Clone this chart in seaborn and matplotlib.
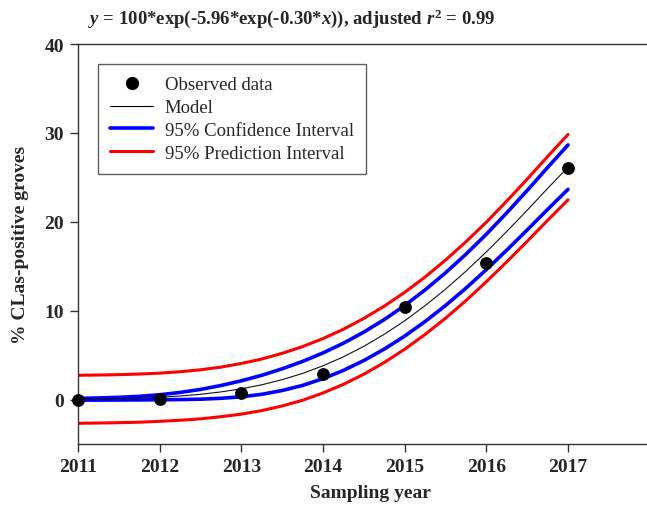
import numpy as np
import pandas as pd
import matplotlib
matplotlib.use("Agg")
import matplotlib.pyplot as plt
from matplotlib.lines import Line2D
import seaborn as sns

# Observed survey data
obs_years = [2011, 2012, 2013, 2014, 2015, 2016, 2017]
obs_pct = [0.0, 0.1, 0.7, 2.9, 10.4, 15.4, 26.1]

# Fitted Gompertz curve and bands, tabulated every quarter year
grid_years = [2011.00, 2011.25, 2011.50, 2011.75, 2012.00, 2012.25, 2012.50, 2012.75,
              2013.00, 2013.25, 2013.50, 2013.75, 2014.00, 2014.25, 2014.50, 2014.75,
              2015.00, 2015.25, 2015.50, 2015.75, 2016.00, 2016.25, 2016.50, 2016.75,
              2017.00]
model_pct = [0.03, 0.06, 0.10, 0.16, 0.26, 0.40, 0.59, 0.86, 1.21, 1.66, 2.24, 2.94,
             3.80, 4.81, 5.99, 7.34, 8.86, 10.56, 12.42, 14.44, 16.61, 18.91, 21.30,
             23.75, 26.15]
ci_low = [-0.07, -0.06, -0.05, -0.04, -0.02, 0.00, 0.04, 0.14, 0.31, 0.59, 1.02, 1.59,
          2.35, 3.28, 4.39, 5.68, 7.14, 8.78, 10.58, 12.53, 14.62, 16.81, 19.08, 21.39,
          23.65]
ci_high = [0.13, 0.18, 0.25, 0.36, 0.54, 0.80, 1.14, 1.58, 2.11, 2.73, 3.46, 4.29, 5.25,
           6.34, 7.59, 9.00, 10.58, 12.34, 14.26, 16.35, 18.60, 21.01, 23.52, 26.11, 28.65]
pi_low = [-2.67, -2.64, -2.60, -2.55, -2.45, -2.33, -2.17, -1.93, -1.64, -1.24, -0.72,
          -0.08, 0.74, 1.71, 2.85, 4.17, 5.66, 7.33, 9.15, 11.13, 13.26, 15.49, 17.80,
          20.16, 22.47]
pi_high = [2.73, 2.76, 2.80, 2.87, 2.97, 3.13, 3.35, 3.65, 4.06, 4.56, 5.20, 5.96, 6.86,
           7.91, 9.13, 10.51, 12.06, 13.79, 15.69, 17.75, 19.96, 22.33, 24.80, 27.34, 29.83]

x_ticks = [2011, 2012, 2013, 2014, 2015, 2016, 2017]
y_ticks = [0, 10, 20, 30, 40]

sns.set_style("white")
plt.rcParams["font.family"] = ["Liberation Serif", "DejaVu Serif"]
plt.rcParams["mathtext.fontset"] = "custom"
plt.rcParams["mathtext.rm"] = "Liberation Serif:bold"
plt.rcParams["mathtext.it"] = "Liberation Serif:bold:italic"
plt.rcParams["mathtext.bf"] = "Liberation Serif:bold"

fig = plt.figure(figsize=(6.47, 5.06), dpi=100)
ax = fig.add_axes([78 / 647, 61 / 506, 569 / 647, 400 / 506])

curves = pd.DataFrame({"year": grid_years, "model": model_pct,
                       "ci_low": ci_low, "ci_high": ci_high,
                       "pi_low": pi_low, "pi_high": pi_high})

red = "#ff0000"
blue = "#0000ff"
for col in ["pi_low", "pi_high"]:
    sns.lineplot(data=curves, x="year", y=col, ax=ax, color=red, lw=2.2, zorder=2)
for col in ["ci_low", "ci_high"]:
    sns.lineplot(data=curves, x="year", y=col, ax=ax, color=blue, lw=2.6, zorder=3)
sns.lineplot(data=curves, x="year", y="model", ax=ax, color="#111111", lw=0.8, zorder=4)

obs = pd.DataFrame({"year": obs_years, "pct": obs_pct})
sns.scatterplot(data=obs, x="year", y="pct", ax=ax, color="black", s=85,
                edgecolor="black", linewidth=0, zorder=5, clip_on=False)

ax.set_xlim(2011, 2011 + 569 / 81.67)
ax.set_ylim(-5, 40)
ax.set_xticks(x_ticks)
ax.set_yticks(y_ticks)
ax.set_xticklabels([str(v) for v in x_ticks], fontsize=14, fontweight="bold")
ax.set_yticklabels([str(v) for v in y_ticks], fontsize=14, fontweight="bold")
ax.tick_params(axis="both", direction="out", length=6, width=1, color="#333333",
               pad=4, left=True, bottom=True)

for side in ["left", "bottom", "top"]:
    ax.spines[side].set_color("#333333")
    ax.spines[side].set_linewidth(1.0)
ax.spines["right"].set_visible(False)

ax.set_xlabel("Sampling year", fontsize=14, fontweight="bold")
ax.xaxis.label.set_va("center")
ax.xaxis.set_label_coords((370 - 78) / 569, (445 - 494) / 400)
ax.set_ylabel("% CLas-positive groves", fontsize=14, fontweight="bold", labelpad=11)

fig.text(292 / 647, 1 - 19 / 506,
         r"$y$ = 100*exp(-5.96*exp(-0.30*$x$)), adjusted $r^2$ = 0.99",
         ha="center", va="center", fontsize=13.5, fontweight="bold")

handles = [
    Line2D([], [], marker="o", ls="none", color="black", markersize=8.5),
    Line2D([], [], color="black", lw=0.8),
    Line2D([], [], color=blue, lw=2.6),
    Line2D([], [], color=red, lw=2.2),
]
labels = ["Observed data", "Model", "95% Confidence Interval", "95% Prediction Interval"]
leg = ax.legend(handles, labels, loc="upper left", bbox_to_anchor=(20 / 569, 1 - 20 / 400),
                borderaxespad=0, frameon=True, fancybox=False, fontsize=13.5,
                handlelength=2.3, handletextpad=0.6, labelspacing=0.3,
                borderpad=0.65, edgecolor="#333333")
leg.get_frame().set_linewidth(1.0)
leg.set_zorder(10)

fig.savefig("out.png", dpi=100)
